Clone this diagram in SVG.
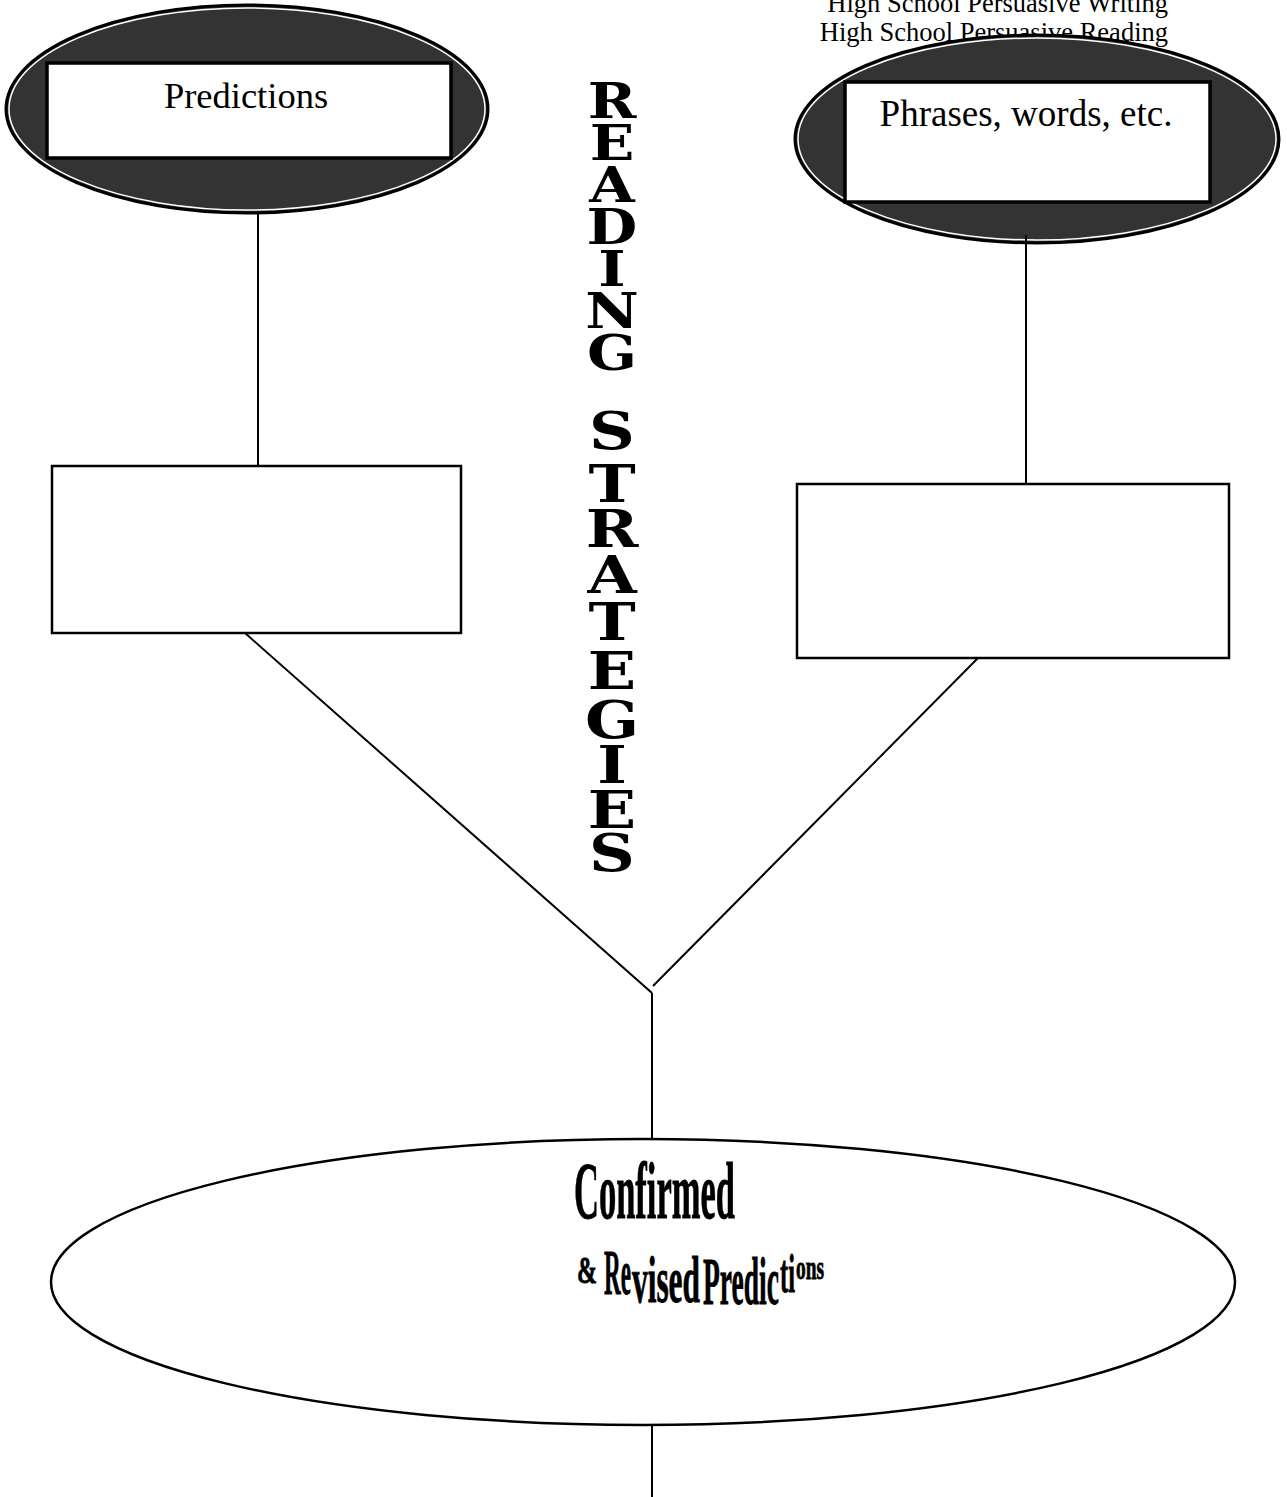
<svg xmlns="http://www.w3.org/2000/svg" width="1287" height="1497" viewBox="0 0 1287 1497">
<style>
.bg{fill:#fff}
.dark{fill:#333;stroke:#000;stroke-width:3}
.ring{fill:none;stroke:#fff;stroke-width:1.5}
.inbox{fill:#fff;stroke:#000;stroke-width:3.5}
.box{fill:#fff;stroke:#000;stroke-width:2.5}
.conn{stroke:#000;stroke-width:2;fill:none}
.lbl{font-family:"Liberation Serif","Times New Roman",serif;fill:#000}
.hdr{font-family:"Liberation Serif","Times New Roman",serif;font-size:26.5px;fill:#000;text-anchor:end}
.title{font-family:"DejaVu Serif","Liberation Serif",serif;font-weight:bold;fill:#000;text-anchor:middle}
.t1{font-size:48px}
.t2{font-size:52px}
.wa{font-family:"Liberation Serif","Times New Roman",serif;font-weight:bold;fill:#000;stroke:#000;stroke-width:0.8}
</style>
<rect class="bg" x="0" y="0" width="1287" height="1497"/>
<g id="header">
<text class="hdr" x="1168" y="12">High School Persuasive Writing</text>
<text class="hdr" x="1168" y="41">High School Persuasive Reading</text>
</g>
<g id="predictions">
<ellipse class="dark" cx="247" cy="109" rx="241" ry="104"/>
<ellipse class="ring" cx="247" cy="109" rx="238" ry="101"/>
<rect class="inbox" x="47" y="63" width="404" height="95"/>
<text class="lbl" x="246" y="108" font-size="36.5" text-anchor="middle">Predictions</text>
</g>
<g id="phrases">
<ellipse class="dark" cx="1037" cy="139" rx="242" ry="104"/>
<ellipse class="ring" cx="1037" cy="139" rx="239" ry="101"/>
<rect class="inbox" x="845" y="82" width="365" height="120"/>
<text class="lbl" x="1026" y="126" font-size="37" text-anchor="middle">Phrases, words, etc.</text>
</g>
<g id="left-box">
<rect class="box" x="52" y="466" width="409" height="167"/>
</g>
<g id="right-box">
<rect class="box" x="797" y="484" width="432" height="174"/>
</g>
<g id="title">
<g transform="translate(612,0) scale(1.22,1)">
<text class="title t1" x="0" y="118">R</text>
<text class="title t1" x="0" y="160">E</text>
<text class="title t1" x="0" y="202">A</text>
<text class="title t1" x="0" y="244">D</text>
<text class="title t1" x="0" y="286">I</text>
<text class="title t1" x="0" y="328">N</text>
<text class="title t1" x="0" y="370">G</text>
<text class="title t2" x="0" y="449">S</text>
<text class="title t2" x="0" y="502">T</text>
<text class="title t2" x="0" y="547">R</text>
<text class="title t2" x="0" y="593">A</text>
<text class="title t2" x="0" y="640">T</text>
<text class="title t2" x="0" y="689">E</text>
<text class="title t2" x="0" y="738">G</text>
<text class="title t2" x="0" y="783">I</text>
<text class="title t2" x="0" y="828">E</text>
<text class="title t2" x="0" y="871">S</text>
</g>
</g>
<g id="confirmed">
<ellipse cx="643" cy="1282" rx="592" ry="143" fill="#fff" stroke="#000" stroke-width="2.5"/>
<text class="wa" x="574" y="1218" font-size="80" textLength="161" lengthAdjust="spacingAndGlyphs">Confirmed</text>
<text class="wa" x="577" y="1283" font-size="38" textLength="20" lengthAdjust="spacingAndGlyphs">&amp;</text>
<text class="wa" x="604" y="1294" font-size="63" textLength="27" lengthAdjust="spacingAndGlyphs">Re</text>
<text class="wa" x="632" y="1302" font-size="66" textLength="68" lengthAdjust="spacingAndGlyphs">vised</text>
<text class="wa" x="703" y="1304" font-size="68" textLength="76" lengthAdjust="spacingAndGlyphs">Predic</text>
<text class="wa" x="780" y="1292" font-size="55" textLength="15" lengthAdjust="spacingAndGlyphs">ti</text>
<text class="wa" x="796" y="1279" font-size="33" textLength="28" lengthAdjust="spacingAndGlyphs">ons</text>
</g>
<g id="connectors">
<line class="conn" x1="258" y1="213" x2="258" y2="466"/>
<line class="conn" x1="1026" y1="235" x2="1026" y2="484"/>
<line class="conn" x1="245" y1="633" x2="652" y2="993"/>
<line class="conn" x1="978" y1="658" x2="653" y2="986"/>
<line class="conn" x1="652" y1="993" x2="652" y2="1139"/>
<line class="conn" x1="652" y1="1425" x2="652" y2="1497"/>
</g>
</svg>
